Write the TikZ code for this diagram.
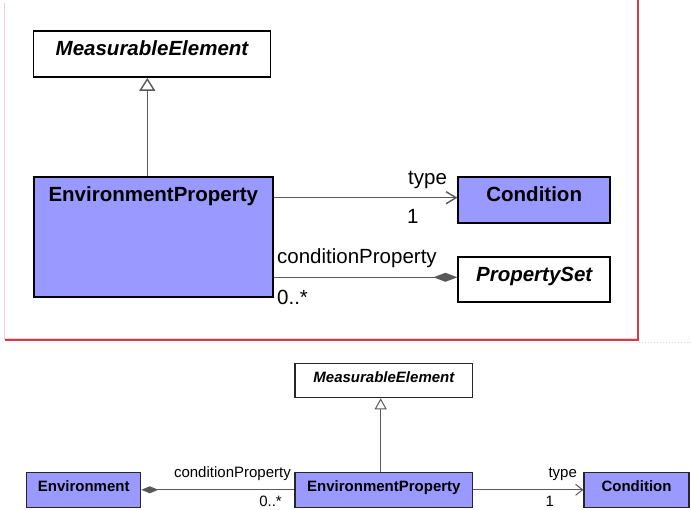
\documentclass[tikz,border=0pt]{standalone}
\usepackage{fontspec}
\setmainfont{Liberation Sans}
\usetikzlibrary{arrows.meta}

\definecolor{clsblue}{RGB}{153,153,255}
\definecolor{framered}{RGB}{214,58,72}
\definecolor{framepink}{RGB}{246,206,210}

\begin{document}
\begin{tikzpicture}[
  x=1pt, y=-1pt,
  cls/.style={rectangle, draw=black, line width=1.8pt, fill=clsblue, inner sep=0pt,
              font=\fontsize{20.5}{24}\selectfont\bfseries, text height=12pt, text depth=8pt},
  abscls/.style={cls, fill=white, font=\fontsize{20.5}{24}\selectfont\bfseries\itshape},
  scls/.style={rectangle, draw=black!85, line width=1.2pt, fill=clsblue, inner sep=0pt,
               font=\fontsize{15}{18}\selectfont\bfseries, text height=9pt, text depth=5pt},
  sabscls/.style={scls, fill=white, font=\fontsize{15}{18}\selectfont\bfseries\itshape},
  lbl/.style={inner sep=2pt, font=\fontsize{20.5}{24}\selectfont},
  slbl/.style={inner sep=2pt, font=\fontsize{15}{18}\selectfont},
  gen/.style={draw=black!65, line width=1.4pt, -{Triangle[open, length=13pt, width=16pt, fill=white]}},
  nav/.style={draw=black!65, line width=1.4pt, -{Straight Barb[length=10pt, width=12pt]}},
  comp/.style={draw=black!65, line width=1.4pt, -{Diamond[length=24pt, width=9pt]}},
  sgen/.style={draw=black!65, line width=1pt, -{Triangle[open, length=11pt, width=12pt, fill=white]}},
  snav/.style={draw=black!65, line width=1pt, -{Straight Barb[length=7pt, width=11pt]}},
  scomp/.style={draw=black!65, line width=1pt, -{Diamond[length=17pt, width=7pt]}}
]
\useasboundingbox (0,0) rectangle (691,510);

% upper panel frame
\draw[framepink, line width=0.8pt] (4.5,3) -- (4.5,340);
\draw[framepink, line width=1pt] (5,338.3) -- (637,338.3);
\draw[framered, line width=1.2pt] (638,0) -- (638,340) -- (4.5,340);
\draw[framepink, line width=1pt, dotted] (639,342.7) -- (691,342.7);

% upper panel
\node[abscls, minimum width=237pt, minimum height=46pt] (me) at (152,54) {MeasurableElement};
\node[cls, minimum width=239pt, minimum height=120pt] (ep) at (153.3,236.7) {};
\node[anchor=base, inner sep=0pt, font=\fontsize{20.5}{24}\selectfont\bfseries] (eptitle)
  at ([yshift=-25.6pt]ep.north) {EnvironmentProperty};
\node[cls, minimum width=151.7pt, minimum height=45.4pt] (cond) at (534.2,200) {Condition};
\node[abscls, minimum width=151.7pt, minimum height=45pt] (pset) at (534.2,279.2) {PropertySet};

\coordinate (tyin) at ([yshift=2.3pt]cond.west);
\coordinate (cpin) at ([yshift=1.9pt]pset.west);

\draw[gen] ([xshift=-6pt]ep.north) -- ([xshift=-4.7pt]me.south);
\draw[nav] (ep.east |- tyin) -- (tyin);
\draw[comp] (ep.east |- cpin) -- (cpin);

\node[lbl, anchor=base west] (ltype) at (406,185) {type};
\node[lbl, anchor=base west] (lone) at (405,223.3) {1};
\node[lbl, anchor=base west] (lcp) at (275,263.3) {conditionProperty};
\node[lbl, anchor=base west] (lmany) at (275,304.5) {0..*};

% lower panel
\node[sabscls, minimum width=177.7pt, minimum height=34.4pt] (me2) at (383.9,380.5) {MeasurableElement};
\node[scls, minimum width=114pt, minimum height=35pt] (env) at (83.7,489.8) {Environment};
\node[scls, minimum width=177.7pt, minimum height=35pt] (ep2) at (383.9,489.8) {EnvironmentProperty};
\node[scls, minimum width=105pt, minimum height=35pt] (cond2) at (636.5,489.8) {Condition};

\draw[sgen] ([xshift=-3.2pt]ep2.north) -- ([xshift=-3.2pt]me2.south);
\draw[scomp] (ep2.west) -- (env.east);
\draw[snav] (ep2.east) -- (cond2.west);

\node[slbl, anchor=base east] (lcp2) at (293,478) {conditionProperty};
\node[slbl, anchor=base east] (lmany2) at (284,506) {0..*};
\node[slbl, anchor=base west] (ltype2) at (546.3,478) {type};
\node[slbl, anchor=base west] (lone2) at (543.4,506) {1};
\end{tikzpicture}
\end{document}
